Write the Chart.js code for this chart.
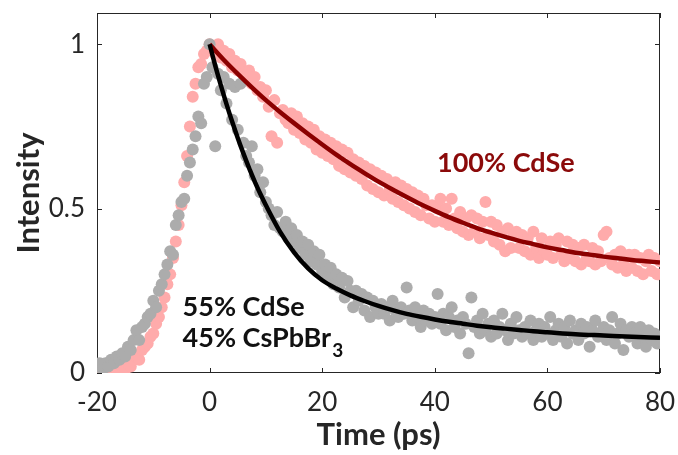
<!DOCTYPE html>
<html>
<head>
<meta charset="utf-8">
<script src="https://cdn.jsdelivr.net/npm/chart.js@4.4.1/dist/chart.umd.min.js"></script>
<style>
  html, body { margin: 0; padding: 0; background: #ffffff; }
  canvas { display: block; }
</style>
</head>
<body>
<canvas id="decayChart" width="678" height="455"></canvas>
<script>
// delay times of the transient, ps
const times = [
  -20, -19.5, -19, -18.5, -18, -17.5, -17, -16.5, -16, -15.5,
  -15, -14.5, -14, -13.5, -13, -12.5, -12, -11.5, -11, -10.5,
  -10, -9.5, -9, -8.5, -8, -7.5, -7, -6.5, -6, -5.5,
  -5, -4.5, -4, -3.5, -3, -2.5, -2, -1.5, -1, -0.5,
  0,
  0.5, 1, 1.5, 2, 2.5, 3, 3.5, 4, 4.5, 5,
  5.5, 6, 6.5, 7, 7.5, 8, 8.5, 9, 9.5, 10,
  10.5, 11, 11.5, 12, 12.5, 13, 13.5, 14, 14.5, 15,
  15.5, 16, 16.5, 17, 17.5, 18, 18.5, 19, 19.5, 20,
  20.5, 21, 21.5, 22, 22.5, 23, 23.5, 24, 24.5, 25,
  25.5, 26, 26.5, 27, 27.5, 28, 28.5, 29, 29.5, 30,
  30.5, 31, 31.5, 32, 32.5, 33, 33.5, 34, 34.5, 35,
  35.5, 36, 36.5, 37, 37.5, 38, 38.5, 39, 39.5, 40,
  40.5, 41, 41.5, 42, 42.5, 43, 43.5, 44, 44.5, 45,
  45.5, 46, 46.5, 47, 47.5, 48, 48.5, 49, 49.5, 50,
  50.5, 51, 51.5, 52, 52.5, 53, 53.5, 54, 54.5, 55,
  55.5, 56, 56.5, 57, 57.5, 58, 58.5, 59, 59.5, 60,
  60.5, 61, 61.5, 62, 62.5, 63, 63.5, 64, 64.5, 65,
  65.5, 66, 66.5, 67, 67.5, 68, 68.5, 69, 69.5, 70,
  70.5, 71, 71.5, 72, 72.5, 73, 73.5, 74, 74.5, 75,
  75.5, 76, 76.5, 77, 77.5, 78, 78.5, 79, 79.5, 80
];

// measured intensity, 100% CdSe (pink dots)
const cdseData = [
  0.01, 0.00, 0.02, 0.00, 0.01, -0.01, 0.00, 0.01, 0.00, 0.02,
  0.01, 0.03, 0.02, 0.04, 0.05, 0.04, 0.07, 0.08, 0.09, 0.11,
  0.12, 0.15, 0.17, 0.20, 0.23, 0.27, 0.30, 0.35, 0.40, 0.45,
  0.51, 0.58, 0.66, 0.75, 0.84, 0.88, 0.93, 0.94, 0.97, 0.98,
  1.00,
  0.99, 0.97, 1.00, 0.96, 0.98, 0.95, 0.97, 0.93, 0.95, 0.92,
  0.94, 0.91, 0.89, 0.92, 0.88, 0.90, 0.86, 0.87, 0.84, 0.86,
  0.81, 0.72, 0.83, 0.70, 0.79, 0.80, 0.77, 0.76, 0.79, 0.74,
  0.78, 0.73, 0.76, 0.71, 0.75, 0.70, 0.74, 0.68, 0.72, 0.67,
  0.71, 0.66, 0.70, 0.65, 0.69, 0.63, 0.68, 0.62, 0.67, 0.61,
  0.65, 0.60, 0.64, 0.59, 0.63, 0.57, 0.62, 0.56, 0.61, 0.55,
  0.60, 0.54, 0.59, 0.56, 0.53, 0.58, 0.52, 0.57, 0.51, 0.56,
  0.50, 0.55, 0.49, 0.54, 0.48, 0.53, 0.51, 0.47, 0.51, 0.46,
  0.50, 0.53, 0.46, 0.50, 0.45, 0.53, 0.47, 0.44, 0.49, 0.43,
  0.47, 0.42, 0.48, 0.43, 0.47, 0.41, 0.46, 0.52, 0.42, 0.46,
  0.40, 0.45, 0.39, 0.43, 0.37, 0.44, 0.38, 0.42, 0.43, 0.38,
  0.42, 0.37, 0.41, 0.36, 0.43, 0.38, 0.35, 0.41, 0.37, 0.36,
  0.40, 0.35, 0.39, 0.41, 0.36, 0.34, 0.40, 0.35, 0.39, 0.34,
  0.38, 0.33, 0.39, 0.35, 0.34, 0.38, 0.33, 0.37, 0.34, 0.42,
  0.43, 0.35, 0.33, 0.36, 0.32, 0.37, 0.33, 0.31, 0.36, 0.32,
  0.36, 0.31, 0.35, 0.30, 0.34, 0.36, 0.31, 0.35, 0.30, 0.34
];

// measured intensity, 55% CdSe / 45% CsPbBr3 (grey dots)
const mixedData = [
  0.02, 0.03, 0.01, 0.03, 0.02, 0.04, 0.03, 0.05, 0.04, 0.06,
  0.05, 0.08, 0.07, 0.10, 0.13, 0.10, 0.14, 0.15, 0.17, 0.18,
  0.22, 0.20, 0.25, 0.27, 0.30, 0.33, 0.37, 0.36, 0.45, 0.48,
  0.52, 0.53, 0.60, 0.64, 0.68, 0.72, 0.78, 0.76, 0.88, 0.90,
  1.00,
  0.93, 0.69, 0.91, 0.86, 0.90, 0.82, 0.88, 0.77, 0.87, 0.74,
  0.88, 0.70, 0.66, 0.64, 0.69, 0.60, 0.62, 0.55, 0.58, 0.52,
  0.50, 0.48, 0.45, 0.49, 0.44, 0.43, 0.46, 0.41, 0.44, 0.40,
  0.42, 0.38, 0.40, 0.36, 0.39, 0.34, 0.37, 0.33, 0.36, 0.31,
  0.33, 0.29, 0.32, 0.27, 0.30, 0.26, 0.29, 0.23, 0.28, 0.25,
  0.20, 0.25, 0.22, 0.24, 0.19, 0.23, 0.17, 0.22, 0.20, 0.18,
  0.21, 0.18, 0.20, 0.16, 0.22, 0.19, 0.17, 0.20, 0.18, 0.26,
  0.19, 0.16, 0.20, 0.17, 0.14, 0.19, 0.16, 0.18, 0.15, 0.17,
  0.24, 0.15, 0.18, 0.13, 0.17, 0.20, 0.14, 0.16, 0.12, 0.17,
  0.15, 0.06, 0.23, 0.14, 0.16, 0.12, 0.18, 0.13, 0.15, 0.11,
  0.16, 0.12, 0.14, 0.18, 0.13, 0.10, 0.15, 0.12, 0.17, 0.13,
  0.11, 0.14, 0.12, 0.16, 0.10, 0.13, 0.15, 0.11, 0.14, 0.12,
  0.17, 0.10, 0.13, 0.15, 0.11, 0.14, 0.09, 0.16, 0.12, 0.13,
  0.10, 0.15, 0.12, 0.14, 0.08, 0.13, 0.16, 0.11, 0.12, 0.14,
  0.10, 0.13, 0.17, 0.09, 0.12, 0.15, 0.07, 0.13, 0.11, 0.14,
  0.12, 0.09, 0.14, 0.11, 0.08, 0.13, 0.10, 0.12, 0.09, 0.11
];

// fitted decay curves
const fitTimesCdse = [0, 2.5, 5, 7.5, 10, 12.5, 15, 17.5, 20, 22.5, 25, 27.5, 30, 32.5, 35, 37.5,
  40, 42.5, 45, 47.5, 50, 52.5, 55, 57.5, 60, 62.5, 65, 67.5, 70, 72.5, 75, 77.5, 80];
const fitCdse = [1.0, 0.953, 0.91, 0.869, 0.83, 0.794, 0.76, 0.727, 0.695, 0.664, 0.635, 0.608, 0.582,
  0.558, 0.535, 0.513, 0.493, 0.474, 0.457, 0.441, 0.427, 0.414, 0.402, 0.392, 0.382, 0.374, 0.366,
  0.36, 0.354, 0.349, 0.344, 0.34, 0.336];
const fitTimesMixed = [0, 1, 2, 3, 4, 5, 6, 7, 8, 9, 10, 12.5, 15, 17.5, 20, 22.5, 25, 27.5, 30, 32.5,
  35, 37.5, 40, 42.5, 45, 47.5, 50, 52.5, 55, 57.5, 60, 65, 70, 75, 80];
const fitMixed = [1.0, 0.935, 0.875, 0.818, 0.765, 0.715, 0.668, 0.624, 0.583, 0.545, 0.51, 0.43, 0.367,
  0.318, 0.282, 0.257, 0.236, 0.219, 0.204, 0.191, 0.18, 0.171, 0.163, 0.156, 0.15, 0.144, 0.139,
  0.135, 0.131, 0.127, 0.124, 0.118, 0.114, 0.11, 0.107];

const xTicks = [-20, 0, 20, 40, 60, 80];
const yTicks = [0, 0.5, 1];
const yTickLabels = ["0", "0.5", "1"];

const FONT = "Lato, 'Open Sans', sans-serif";
const AXIS_COLOR = "#262626";

function toPoints(xs, ys) {
  return xs.map((t, i) => ({ x: t, y: ys[i] }));
}

// no extra room for edge labels, the plot box is fixed by the layout padding
function fixScale(scale) {
  scale.paddingTop = 0;
  scale.paddingBottom = 0;
  scale.paddingLeft = 0;
  scale.paddingRight = 0;
}

// box round the plot with inward ticks on all four sides
const framePlugin = {
  id: "frame",
  beforeDatasetsDraw(chart) {
    const { ctx, chartArea: a, scales: { x, y } } = chart;
    const tl = 5;
    ctx.save();
    ctx.strokeStyle = AXIS_COLOR;
    ctx.lineWidth = 1;
    ctx.strokeRect(a.left + 0.5, a.top + 0.5, a.right - a.left - 1, a.bottom - a.top - 1);
    ctx.beginPath();
    xTicks.forEach((v) => {
      const px = Math.round(x.getPixelForValue(v)) + 0.5;
      ctx.moveTo(px, a.bottom);
      ctx.lineTo(px, a.bottom - tl);
      ctx.moveTo(px, a.top);
      ctx.lineTo(px, a.top + tl);
    });
    yTicks.forEach((v) => {
      const py = Math.round(y.getPixelForValue(v)) + 0.5;
      ctx.moveTo(a.left, py);
      ctx.lineTo(a.left + tl, py);
      ctx.moveTo(a.right, py);
      ctx.lineTo(a.right - tl, py);
    });
    ctx.stroke();
    ctx.restore();
  },
  afterDatasetsDraw(chart) {
    const { ctx, scales: { x, y } } = chart;
    ctx.save();
    ctx.textBaseline = "middle";
    ctx.textAlign = "left";
    ctx.font = "bold 27px " + FONT;
    ctx.fillStyle = "#8b0a0a";
    ctx.fillText("100% CdSe", x.getPixelForValue(40.4), y.getPixelForValue(0.638));
    ctx.fillStyle = "#111111";
    ctx.fillText("55% CdSe", x.getPixelForValue(-4.8), y.getPixelForValue(0.2));
    const bx = x.getPixelForValue(-4.8);
    const by = y.getPixelForValue(0.106);
    ctx.fillText("45% CsPbBr", bx, by);
    const w = ctx.measureText("45% CsPbBr").width;
    ctx.font = "bold 19px " + FONT;
    ctx.fillText("3", bx + w + 1, by + 13);
    ctx.restore();
  }
};

const ctx = document.getElementById("decayChart").getContext("2d");
new Chart(ctx, {
  type: "scatter",
  data: {
    datasets: [
      {
        label: "55% CdSe fit",
        data: toPoints(fitTimesMixed, fitMixed),
        showLine: true,
        borderColor: "#000000",
        borderWidth: 4.5,
        pointRadius: 0,
        cubicInterpolationMode: "monotone",
        order: 0
      },
      {
        label: "100% CdSe fit",
        data: toPoints(fitTimesCdse, fitCdse),
        showLine: true,
        borderColor: "#8b0000",
        borderWidth: 4.5,
        pointRadius: 0,
        cubicInterpolationMode: "monotone",
        order: 1
      },
      {
        label: "55% CdSe / 45% CsPbBr3",
        data: toPoints(times, mixedData),
        backgroundColor: "#acacac",
        borderWidth: 0,
        pointRadius: 6,
        order: 2
      },
      {
        label: "100% CdSe",
        data: toPoints(times, cdseData),
        backgroundColor: "#ffabab",
        borderWidth: 0,
        pointRadius: 6,
        order: 3
      }
    ]
  },
  options: {
    responsive: false,
    animation: false,
    devicePixelRatio: 1,
    layout: { padding: { top: 13, right: 18, left: 0, bottom: 0 } },
    plugins: {
      legend: { display: false },
      tooltip: { enabled: false }
    },
    scales: {
      x: {
        type: "linear",
        min: -20,
        max: 80,
        afterBuildTicks: (scale) => { scale.ticks = xTicks.map((v) => ({ value: v })); },
        afterFit: (scale) => { scale.height = 82; fixScale(scale); },
        grid: { display: false, drawTicks: false },
        border: { display: false },
        ticks: {
          padding: 14,
          color: AXIS_COLOR,
          font: { family: FONT, size: 26 },
          maxRotation: 0
        },
        title: {
          display: true,
          text: "Time (ps)",
          color: AXIS_COLOR,
          font: { family: FONT, size: 31, weight: "bold", lineHeight: 1.2 },
          padding: { top: 0, bottom: 1 }
        }
      },
      y: {
        type: "linear",
        min: 0,
        max: 1.095,
        afterBuildTicks: (scale) => { scale.ticks = yTicks.map((v) => ({ value: v })); },
        afterFit: (scale) => { scale.width = 97; fixScale(scale); },
        grid: { display: false, drawTicks: false },
        border: { display: false },
        ticks: {
          padding: 12,
          color: AXIS_COLOR,
          font: { family: FONT, size: 26 },
          callback: (value) => yTickLabels[yTicks.indexOf(value)]
        },
        title: {
          display: true,
          text: "Intensity",
          color: AXIS_COLOR,
          font: { family: FONT, size: 31, weight: "bold", lineHeight: 1.2 },
          padding: { top: 10, bottom: 0 }
        }
      }
    }
  },
  plugins: [framePlugin]
});
</script>
</body>
</html>
